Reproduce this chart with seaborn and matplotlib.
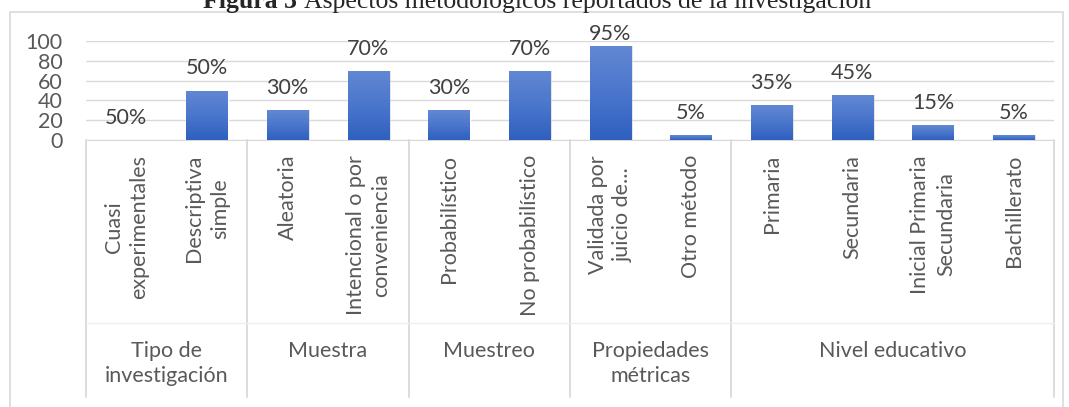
import matplotlib
matplotlib.use("Agg")
import matplotlib.pyplot as plt
import seaborn as sns
import numpy as np
import pandas as pd
from matplotlib.colors import LinearSegmentedColormap
from matplotlib.patches import Rectangle

# data
categories = ["Cuasi\nexperimentales", "Descriptiva\nsimple", "Aleatoria",
              "Intencional o por\nconveniencia", "Probabilístico", "No probabilístico",
              "Validada por\njuicio de...", "Otro método", "Primaria", "Secundaria",
              "Inicial Primaria\nSecundaria", "Bachillerato"]
values = [0, 50, 30, 70, 30, 70, 95, 5, 35, 45, 15, 5]
value_labels = ["50%", "50%", "30%", "70%", "30%", "70%", "95%", "5%", "35%", "45%", "15%", "5%"]
groups = ["Tipo de\ninvestigación", "Muestra", "Muestreo", "Propiedades\nmétricas", "Nivel educativo"]
group_sizes = [2, 2, 2, 2, 4]
yticks = [0, 20, 40, 60, 80, 100]

W, H = 1069, 407
FS = 15.5
sns.set_style("white")
plt.rcParams["font.family"] = ["Lato", "DejaVu Sans"]

fig = plt.figure(figsize=(W / 100, H / 100), dpi=100)
ax = fig.add_axes([86 / W, (H - 140) / H, 968 / W, 99 / H])

df = pd.DataFrame({"cat": range(len(categories)), "val": values})
sns.barplot(data=df, x="cat", y="val", color="#4472c4", width=0.51, ax=ax, zorder=3)

ax.set_xlim(-0.5, len(categories) - 0.5)
ax.set_ylim(0, 100)
ax.set_yticks(yticks)
ax.set_yticklabels([str(t) for t in yticks], fontsize=FS, color="#595959")
ax.tick_params(axis="y", length=0, pad=17)
ax.set_xticks([])
ax.set_xlabel("")
ax.set_ylabel("")
ax.yaxis.grid(True, color="#d9d9d9", lw=1, zorder=0)
ax.set_axisbelow(True)
for s in ["top", "right", "left"]:
    ax.spines[s].set_visible(False)
ax.spines["bottom"].set_color("#d9d9d9")

# gradient fill + soft shadow on bars
cmap = LinearSegmentedColormap.from_list("bars", ["#2f60bf", "#4a76cc", "#6288d3"])
grad = np.linspace(0, 1, 256).reshape(-1, 1)
for bar in ax.patches:
    x0, y0 = bar.get_x(), bar.get_y()
    w, h = bar.get_width(), bar.get_height()
    if h <= 0:
        continue
    shadow = Rectangle((x0 + 0.02, y0), w, h, color="#bfbfbf", alpha=0.5, zorder=2, lw=0)
    ax.add_patch(shadow)
    im = ax.imshow(grad, extent=(x0, x0 + w, y0, y0 + h), origin="lower", cmap=cmap,
                   aspect="auto", zorder=3.5)
    im.set_clip_path(bar)
ax.set_xlim(-0.5, len(categories) - 0.5)
ax.set_ylim(0, 100)

# value labels above bars
for i, (v, lab) in enumerate(zip(values, value_labels)):
    ax.text(i, min(v + 16.2, 101.5), lab, ha="center", va="baseline",
            fontsize=FS, color="#404040", zorder=5, clip_on=False)

# category labels (rotated)
trans = ax.get_xaxis_transform()
for i, cat in enumerate(categories):
    ax.annotate(cat, xy=(i, 0), xycoords=trans, xytext=(0, -10.8), textcoords="offset points",
                rotation=90, ha="center", va="top", multialignment="center",
                fontsize=FS, color="#595959", linespacing=1.35)

# group labels and separators
start = 0
bounds = [-0.5]
for g, n in zip(groups, group_sizes):
    mid = start + (n - 1) / 2
    ax.annotate(g, xy=(mid, 0), xycoords=trans, xytext=(0, -145), textcoords="offset points",
                ha="center", va="top", multialignment="center",
                fontsize=FS, color="#595959", linespacing=1.28)
    start += n
    bounds.append(start - 0.5)
for b in bounds:
    ax.plot([b, b], [0, -257 / 99], transform=trans, color="#d9d9d9", lw=1.3, clip_on=False)
ax.plot([-0.5, len(categories) - 0.5], [-183 / 99, -183 / 99], transform=trans,
        color="#efefef", lw=1, clip_on=False)

# outer chart border
fig.add_artist(Rectangle((10 / W, -0.01), 1053 / W, (H - 12) / H + 0.01,
                         transform=fig.transFigure, fill=False, ec="#d9d9d9", lw=1.2))

# title (cut at top as in reference)
t1 = fig.text(0, (H - 8) / H, "Figura 3 ", fontsize=18.5, fontweight="bold",
              family="Liberation Serif", ha="left", va="baseline")
t2 = fig.text(0, (H - 8) / H, "Aspectos metodológicos reportados de la investigación",
              fontsize=18.5, family="Liberation Serif", ha="left", va="baseline")
r = fig.canvas.get_renderer()
w1 = t1.get_window_extent(r).width
w2 = t2.get_window_extent(r).width
x_start = 537 - (w1 + w2) / 2
t1.set_x(x_start / W)
t2.set_x((x_start + w1) / W)

fig.savefig("out.png", dpi=100)
